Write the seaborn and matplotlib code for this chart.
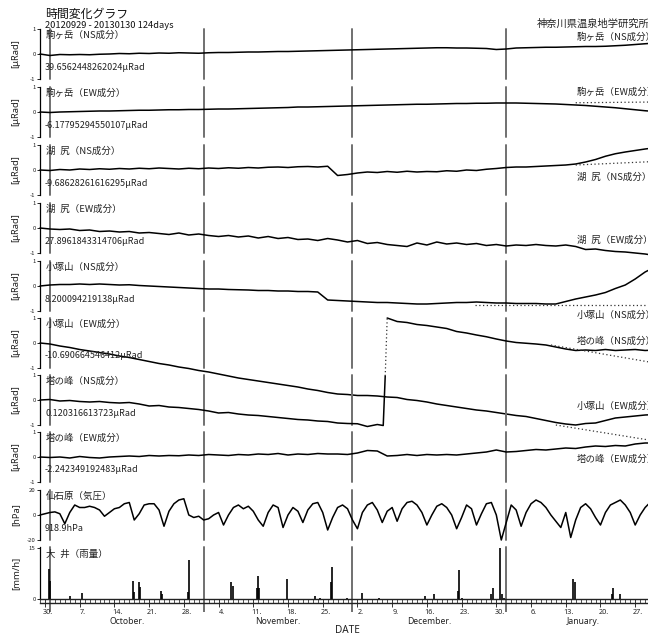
import matplotlib
matplotlib.use("Agg")
import matplotlib.pyplot as plt
import matplotlib.transforms as mtransforms
import seaborn as sns

# ---------------- data ----------------
# x values are days elapsed since 2012-09-29 00:00
span_days = 124
tilt_day = list(range(0, 125, 2))

komaga_ns = [0.00, -0.06, -0.02, -0.03, -0.02, -0.03, -0.01, 0.00, 0.02, 0.01,
             0.03, 0.02, 0.04, 0.03, 0.05, 0.04, 0.03, 0.05, 0.06, 0.06,
             0.07, 0.08, 0.08, 0.09, 0.10, 0.10, 0.11, 0.12, 0.13, 0.14,
             0.15, 0.16, 0.17, 0.18, 0.19, 0.20, 0.21, 0.22, 0.23, 0.24,
             0.25, 0.25, 0.24, 0.24, 0.23, 0.22, 0.18, 0.20, 0.24, 0.25,
             0.26, 0.27, 0.27, 0.28, 0.29, 0.30, 0.30, 0.31, 0.33, 0.35,
             0.38, 0.41, 0.44]
komaga_ew = [0.00, -0.02, 0.00, 0.01, 0.02, 0.03, 0.04, 0.04, 0.05, 0.06,
             0.07, 0.07, 0.08, 0.09, 0.09, 0.10, 0.10, 0.11, 0.12, 0.12,
             0.13, 0.14, 0.15, 0.16, 0.17, 0.18, 0.20, 0.20, 0.21, 0.22,
             0.23, 0.24, 0.25, 0.26, 0.27, 0.28, 0.29, 0.30, 0.31, 0.31,
             0.32, 0.33, 0.34, 0.34, 0.35, 0.35, 0.36, 0.36, 0.36, 0.35,
             0.34, 0.33, 0.32, 0.30, 0.28, 0.26, 0.23, 0.20, 0.17, 0.13,
             0.09, 0.05, 0.02]
kojiri_ns = [0.00, -0.02, 0.02, 0.00, 0.04, 0.02, 0.05, 0.03, 0.06, 0.04,
             0.07, 0.05, 0.08, 0.06, 0.04, 0.07, 0.05, 0.08, 0.06, 0.09,
             0.07, 0.10, 0.08, 0.11, 0.12, 0.10, 0.13, 0.14, 0.12, 0.15,
             -0.22, -0.18, -0.12, -0.08, -0.10, -0.06, -0.09, -0.05, -0.08, -0.06,
             -0.07, -0.03, -0.05, 0.00, -0.02, 0.03, 0.06, 0.10, 0.12, 0.12,
             0.14, 0.16, 0.18, 0.20, 0.24, 0.32, 0.42, 0.55, 0.65, 0.72,
             0.78, 0.84, 0.89]
kojiri_ew = [0.00, -0.04, -0.06, -0.04, -0.10, -0.08, -0.14, -0.12, -0.16, -0.14,
             -0.20, -0.18, -0.22, -0.26, -0.20, -0.28, -0.24, -0.30, -0.34, -0.30,
             -0.36, -0.32, -0.40, -0.34, -0.42, -0.38, -0.46, -0.44, -0.50, -0.42,
             -0.48, -0.56, -0.50, -0.62, -0.58, -0.66, -0.70, -0.74, -0.60, -0.68,
             -0.56, -0.64, -0.60, -0.66, -0.62, -0.70, -0.66, -0.72, -0.68, -0.70,
             -0.66, -0.70, -0.72, -0.68, -0.74, -0.86, -0.84, -0.90, -0.94, -0.96,
             -1.00, -1.04, -1.10]
kozuka_ns = [0.00, 0.04, 0.06, 0.06, 0.08, 0.06, 0.08, 0.06, 0.04, 0.05,
             0.02, 0.00, -0.02, -0.04, -0.06, -0.08, -0.10, -0.12, -0.12, -0.14,
             -0.15, -0.16, -0.18, -0.18, -0.20, -0.20, -0.22, -0.22, -0.24, -0.56,
             -0.58, -0.60, -0.62, -0.64, -0.66, -0.66, -0.68, -0.70, -0.72, -0.72,
             -0.70, -0.68, -0.66, -0.66, -0.64, -0.66, -0.68, -0.68, -0.70, -0.70,
             -0.70, -0.72, -0.72, -0.62, -0.52, -0.44, -0.36, -0.26, -0.10, 0.04,
             0.28, 0.56, 0.76]
kozuka_ew = [0.00, -0.04, -0.12, -0.18, -0.26, -0.32, -0.38, -0.44, -0.52, -0.58,
             -0.66, -0.74, -0.82, -0.88, -0.96, -1.02, -1.10, -1.16, -1.24, -1.32,
             -1.40, -1.46, -1.52, -1.58, -1.64, -1.70, -1.76, -1.84, -1.90, -1.98,
             -2.04, -2.06, -2.10, -2.10, -2.12, -2.16, -2.18, -2.26, -2.30, -2.36,
             -2.44, -2.50, -2.56, -2.62, -2.68, -2.72, -2.78, -2.84, -2.90, -2.94,
             -3.02, -3.10, -3.18, -3.24, -3.28, -3.22, -3.20, -3.10, -3.00, -2.96,
             -2.92, -2.88, -2.86]
# 塔の峰 NS: record before and after the step on 2012-12-07
tonomine_ns_day_a = list(range(0, 69, 2)) + [69.2, 69.6]
tonomine_ns_a = [0.00, 0.02, -0.04, -0.02, -0.06, -0.08, -0.06, -0.10, -0.12, -0.10,
                 -0.16, -0.24, -0.22, -0.28, -0.30, -0.34, -0.38, -0.44, -0.52, -0.50,
                 -0.56, -0.60, -0.62, -0.66, -0.70, -0.74, -0.78, -0.80, -0.84, -0.86,
                 -0.92, -0.94, -0.95, -1.06, -0.98, -1.02, 0.96]
tonomine_ns_day_b = list(range(70, 125, 2))
tonomine_ns_b = [3.28, 3.14, 3.10, 3.02, 2.98, 2.92, 2.86, 2.74, 2.68, 2.60,
                 2.53, 2.44, 2.36, 2.30, 2.27, 2.24, 2.20, 2.12, 2.04, 1.98,
                 2.00, 1.98, 2.02, 1.98, 2.00, 2.02, 1.98, 2.00]
tonomine_ew = [0.00, -0.02, 0.00, -0.04, 0.02, -0.02, -0.04, 0.00, 0.02, 0.04,
               0.02, 0.06, 0.04, 0.06, 0.05, 0.08, 0.06, 0.10, 0.08, 0.06,
               0.10, 0.08, 0.12, 0.10, 0.14, 0.08, 0.12, 0.10, 0.14, 0.12,
               0.12, 0.10, 0.16, 0.26, 0.24, 0.04, 0.06, 0.10, 0.06, 0.10,
               0.08, 0.10, 0.08, 0.12, 0.16, 0.20, 0.28, 0.20, 0.22, 0.26,
               0.30, 0.28, 0.32, 0.36, 0.34, 0.40, 0.44, 0.42, 0.46, 0.44,
               0.52, 0.56, 0.56]

# dotted trend lines (start day, end day) / (start value, end value)
komaga_ew_trend_day, komaga_ew_trend = [108, 124], [0.37, 0.40]
kojiri_ns_trend_day, kojiri_ns_trend = [108, 124], [0.20, 0.34]
kozuka_ns_trend_day, kozuka_ns_trend = [87.7, 124], [-0.76, -0.76]
kozuka_ew_trend_day, kozuka_ew_trend = [104, 124], [-3.28, -3.92]
tonomine_ns_trend_day, tonomine_ns_trend = [103, 124], [2.20, 1.48]

# 仙石原 barometric pressure anomaly [hPa], daily
pressure_day = list(range(0, 125))
pressure = [0, 1, 2, 2.5, 1, -7, 2, 8, 6, 6,
            7, 6, 4, -1, 2, 5, 6, 9, 10, -4,
            1, 8, 9, 9, 4, -9, 3, 9, 12, 13,
            0, -2, -1, -4, -3, 0, 2, -8, 0, 6,
            8, 5, 7, 3, -4, -9, 2, 8, 6, -10,
            0, 6, 3, -6, 4, 9, 10, 2, -12, -2,
            6, 8, 5, -4, -11, 2, 8, 10, 4, -6,
            3, 6, -5, 5, 10, 11, 8, 2, -8, 0,
            7, 9, 6, 0, -11, -2, 8, 5, -8, 1,
            9, 10, 0, -20, -6, 8, 4, -9, 2, 9,
            12, 10, 6, 0, -5, -10, 2, -18, -4, 6,
            9, 5, -2, -8, 2, 8, 10, 12, 8, 2,
            -8, 0, 6, 10, 12]

# 大井 hourly rainfall [mm/h]
rain_day = [1.75, 2.0, 6.05, 8.47, 18.75, 18.95, 19.96, 20.16, 24.4, 24.6,
            29.84, 30.04, 38.5, 38.9, 43.75, 43.95, 44.15, 49.8, 55.4, 56.45,
            58.67, 58.87, 61.9, 64.9, 68.35, 77.6, 79.4, 84.27, 84.48, 85.1,
            90.9, 91.33, 92.74, 93.1, 93.5, 107.46, 107.9, 115.3, 115.5, 116.9]
rain_mm = [8.8, 5.3, 1.0, 1.8, 5.3, 2.0, 5.0, 3.5, 2.4, 1.5,
           2.0, 11.5, 5.0, 3.8, 3.2, 6.8, 3.2, 5.9, 0.8, 0.4,
           5.0, 9.4, 0.4, 1.7, 0.4, 0.9, 1.5, 2.4, 8.5, 0.4,
           1.5, 3.2, 15.0, 1.5, 0.4, 5.9, 5.0, 1.5, 3.2, 1.5]

# calendar
month_start_day = [2, 33, 63, 94, 125]
month_names = ["October.", "November.", "December.", "January."]
week_day = [1, 8, 15, 22, 29, 36, 43, 50, 57, 64, 71, 78, 85, 92, 99, 106, 113, 120]
week_labels = ["30.", "7.", "14.", "21.", "28.", "4.", "11.", "18.", "25.",
               "2.", "9.", "16.", "23.", "30.", "6.", "13.", "20.", "27."]

tilt_panels = [
    ("駒ヶ岳（NS成分）", "39.6562448262024μRad", komaga_ns),
    ("駒ヶ岳（EW成分）", "-6.17795294550107μRad", komaga_ew),
    ("湖\u2002尻（NS成分）", "-9.68628261616295μRad", kojiri_ns),
    ("湖\u2002尻（EW成分）", "27.8961843314706μRad", kojiri_ew),
    ("小塚山（NS成分）", "8.200094219138μRad", kozuka_ns),
    ("小塚山（EW成分）", "-10.690664546412μRad", kozuka_ew),
    ("塔の峰（NS成分）", "0.120316613723μRad", None),
    ("塔の峰（EW成分）", "-2.242349192483μRad", tonomine_ew),
]

# ---------------- figure ----------------
sns.set_style("white")
plt.rcParams["font.family"] = ["Noto Sans CJK JP", "DejaVu Sans"]
plt.rcParams["axes.unicode_minus"] = False

FIG_W, FIG_H = 648, 633
PX_PER_DAY = 4.96
X0 = 40
fig = plt.figure(figsize=(FIG_W / 100, FIG_H / 100), dpi=100, facecolor="white")


def fx(px):
    return px / FIG_W


def fy(px):
    return 1 - px / FIG_H


def add_panel(top, bottom):
    return fig.add_axes([fx(X0), fy(bottom), PX_PER_DAY * span_days / FIG_W,
                         (bottom - top) / FIG_H])


def style_panel(ax, ylim, yticks, ylabel, ycenter):
    ax.set_xlim(0, span_days)
    ax.set_ylim(*ylim)
    ax.set_facecolor("none")
    for side in ("top", "right", "bottom"):
        ax.spines[side].set_visible(False)
    ax.spines["left"].set_color("black")
    ax.spines["left"].set_linewidth(0.9)
    ax.set_xticks([])
    ax.set_yticks(yticks)
    ax.set_yticklabels([str(t) for t in yticks])
    ax.tick_params(axis="y", left=True, length=2.2, width=0.7, pad=1,
                   labelsize=4.3, colors="#222222")
    ax.set_xlabel("")
    ax.set_ylabel("")
    for m in month_start_day[:-1]:
        ax.axvline(m, color="#707070", lw=1.4, zorder=0.5)
    for line in ax.lines:
        line.set_clip_on(False)
    fig.text(fx(16), fy(ycenter), ylabel, rotation=90, ha="center", va="center",
             fontsize=6.8, color="#222222", family=["Noto Sans", "DejaVu Sans"])


def trend(ax, days, vals):
    ax.plot(days, vals, ls=(0, (1, 2)), color="#333333", lw=0.9, clip_on=False)


centers = [54, 112, 170, 228, 286, 343, 400, 457]
LINE = dict(color="black", linewidth=1.1)
LABEL_FS = 6.8
VALUE_FS = 6.5

for i, (name, base, vals) in enumerate(tilt_panels):
    y0 = centers[i]
    ax = add_panel(y0 - 25, y0 + 25)
    if vals is not None:
        sns.lineplot(x=tilt_day, y=vals, ax=ax, **LINE)
    else:
        sns.lineplot(x=tonomine_ns_day_a, y=tonomine_ns_a, ax=ax, **LINE)
        sns.lineplot(x=tonomine_ns_day_b, y=tonomine_ns_b, ax=ax, **LINE)
        trend(ax, [tonomine_ns_day_a[-1], tonomine_ns_day_b[0]],
              [tonomine_ns_a[-1], tonomine_ns_b[0]])
        trend(ax, tonomine_ns_trend_day, tonomine_ns_trend)
    if i == 1:
        trend(ax, komaga_ew_trend_day, komaga_ew_trend)
    if i == 2:
        trend(ax, kojiri_ns_trend_day, kojiri_ns_trend)
    if i == 4:
        trend(ax, kozuka_ns_trend_day, kozuka_ns_trend)
    if i == 5:
        trend(ax, kozuka_ew_trend_day, kozuka_ew_trend)
    style_panel(ax, (-1, 1), [1, 0, -1], "[μRad]", y0)
    fig.text(fx(46), fy(y0 - 19), name, ha="left", va="center", fontsize=LABEL_FS,
             color="#222222")
    fig.text(fx(45), fy(y0 + 13), base, ha="left", va="center", fontsize=VALUE_FS,
             color="#222222")

# pressure
axp = add_panel(490, 540)
sns.lineplot(x=pressure_day, y=pressure, ax=axp, **LINE)
style_panel(axp, (-20, 20), [20, 0, -20], "[hPa]", 515)
fig.text(fx(46), fy(496), "仙石原（気圧）", ha="left", va="center", fontsize=LABEL_FS,
         color="#222222")
fig.text(fx(45), fy(528.5), "918.9hPa", ha="left", va="center", fontsize=VALUE_FS,
         color="#222222")

# rainfall
axr = add_panel(547, 599)
axr.vlines(rain_day, 0, rain_mm, color="black", lw=1.2, zorder=2)
style_panel(axr, (0, 15.3), [15, 0], "[mm/h]", 573)
fig.text(fx(46), fy(554), "大\u2002井（雨量）", ha="left", va="center",
         fontsize=LABEL_FS, color="#222222")

# date ruler under the bottom panel
ruler = add_panel(599, 603)
ruler.set_xlim(0, span_days)
ruler.set_ylim(0, 1)
ruler.set_facecolor("none")
ruler.spines["left"].set_visible(False)
ruler.spines["right"].set_visible(False)
for side in ("top", "bottom"):
    ruler.spines[side].set_linewidth(1.0)
    ruler.spines[side].set_color("#222222")
ruler.set_yticks([])
ruler.set_xticks(week_day)
ruler.set_xticklabels([])
ruler.set_xticks(list(range(0, span_days + 1)), minor=True)
ruler.tick_params(axis="x", which="minor", bottom=True, direction="in",
                  length=2.9, width=0.6, color="#333333")
ruler.tick_params(axis="x", which="major", bottom=True, direction="inout",
                  length=5.8, width=0.7, color="#333333")
ruler.vlines(month_start_day[:-1], -2.3, 1, transform=ruler.get_xaxis_transform(),
             color="#707070", lw=1.4, clip_on=False)

lab_tr = mtransforms.blended_transform_factory(ruler.transData, fig.transFigure)
for d, lab in zip(week_day, week_labels):
    ruler.text(d + 0.6, fy(612.5), lab, transform=lab_tr, ha="center", va="center",
               fontsize=5.2, color="#222222", family=["Noto Sans", "DejaVu Sans"])
for k, name in enumerate(month_names):
    mid = (month_start_day[k] + month_start_day[k + 1]) / 2
    ruler.text(mid, fy(621.5), name, transform=lab_tr, ha="center", va="center",
               fontsize=6.2, color="#222222", family=["Noto Sans", "DejaVu Sans"])
ruler.text(span_days / 2, fy(630.5), "DATE", transform=lab_tr, ha="center",
           va="center", fontsize=7.2, color="#222222",
           family=["Noto Sans", "DejaVu Sans"])

# headings
fig.text(fx(45), fy(14.5), "時間変化グラフ", ha="left", va="center", fontsize=8.6,
         color="#111111")
fig.text(fx(45), fy(25.5), "20120929 - 20130130 124days", ha="left", va="center",
         fontsize=6.7, color="#111111")
fig.text(fx(537), fy(24), "神奈川県温泉地学研究所", ha="left", va="center",
         fontsize=7.4, color="#222222")

# names at the right-hand end of each trace
right_labels = [("駒ヶ岳（NS成分）", 37), ("駒ヶ岳（EW成分）", 92),
                ("湖\u2002尻（NS成分）", 177), ("湖\u2002尻（EW成分）", 240),
                ("小塚山（NS成分）", 315), ("塔の峰（NS成分）", 341),
                ("小塚山（EW成分）", 406), ("塔の峰（EW成分）", 459)]
for text, yc in right_labels:
    fig.text(fx(577), fy(yc), text, ha="left", va="center", fontsize=6.8,
             color="#222222")

fig.savefig("out.png", dpi=100, facecolor="white")
